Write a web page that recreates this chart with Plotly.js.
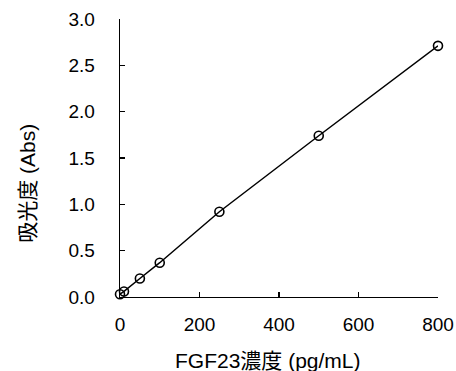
<!DOCTYPE html>
<html>
<head>
<meta charset="utf-8">
<script src="https://cdn.plot.ly/plotly-3.0.1.min.js"></script>
<style>html,body{margin:0;padding:0;background:#fff;}#chart{width:456px;height:371px;}</style>
</head>
<body>
<div id="chart"></div>
<script>
const concentration = [0, 10, 50, 100, 250, 500, 800];
const absorbance = [0.03, 0.06, 0.20, 0.37, 0.92, 1.74, 2.71];
const xTicks = [0, 200, 400, 600, 800];
const yTicks = [0.0, 0.5, 1.0, 1.5, 2.0, 2.5, 3.0];
const yTickText = ['0.0', '0.5', '1.0', '1.5', '2.0', '2.5', '3.0'];
const xTitle = 'FGF23濃度 (pg/mL)';
const yTitle = '吸光度 (Abs)';

const FONT = 'Liberation Sans, Arial, Noto Sans CJK JP, sans-serif';

const trace = {
  x: concentration,
  y: absorbance,
  type: 'scatter',
  mode: 'lines+markers',
  line: {color: '#000', width: 1.5},
  marker: {symbol: 'circle-open', size: 9, color: '#000', line: {width: 1.6, color: '#000'}},
  cliponaxis: false,
  showlegend: false
};

const layout = {
  width: 456, height: 371,
  margin: {l: 120, r: 18, t: 19, b: 74},
  paper_bgcolor: '#fff', plot_bgcolor: '#fff',
  font: {family: FONT, color: '#000', size: 19},
  xaxis: {
    range: [0, 800], tickvals: xTicks, ticktext: xTicks.map(String),
    showgrid: false, zeroline: false, showline: true, linecolor: '#000', linewidth: 1.3,
    ticks: 'inside', ticklen: 5, tickwidth: 1.3, tickcolor: '#000',
    ticklabelstandoff: 10,
    tickfont: {family: FONT, size: 19, color: '#000'}
  },
  yaxis: {
    range: [0, 3], tickvals: yTicks, ticktext: yTickText,
    showgrid: false, zeroline: false, showline: true, linecolor: '#000', linewidth: 1.3,
    ticks: 'inside', ticklen: 5, tickwidth: 1.3, tickcolor: '#000',
    ticklabelstandoff: 20,
    tickfont: {family: FONT, size: 19, color: '#000'}
  },
  annotations: [{
    text: yTitle, xref: 'paper', yref: 'paper', x: -0.292, y: 0.408,
    xanchor: 'center', yanchor: 'middle', textangle: -90, showarrow: false,
    font: {family: FONT, size: 21, color: '#000'}
  }, {
    text: xTitle, xref: 'paper', yref: 'paper', x: 0.465, y: -0.227,
    xanchor: 'center', yanchor: 'middle', showarrow: false,
    font: {family: FONT, size: 21, color: '#000'}
  }]
};

Plotly.newPlot('chart', [trace], layout, {displayModeBar: false, staticPlot: true});
</script>
</body>
</html>
